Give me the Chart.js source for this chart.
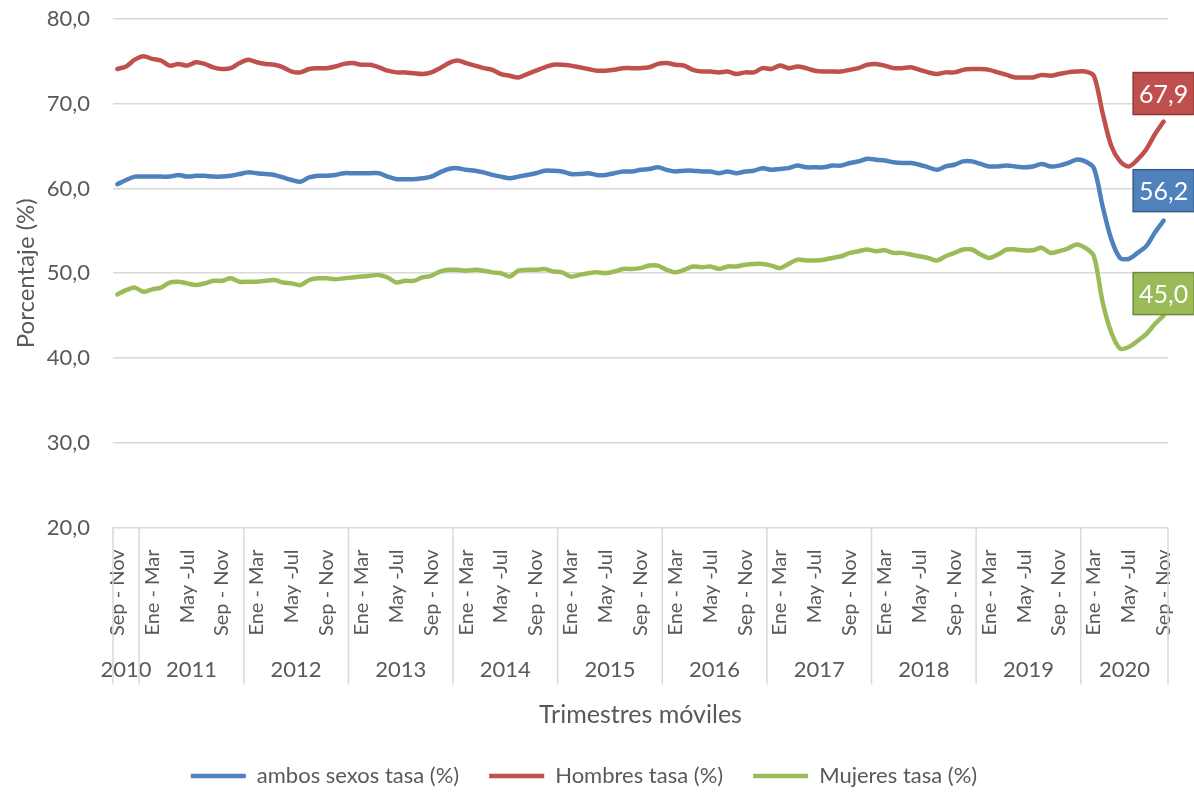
<!DOCTYPE html>
<html>
<head>
<meta charset="utf-8">
<script src="https://cdn.jsdelivr.net/npm/chart.js@4/dist/chart.umd.min.js"></script>
<style>
  body { margin: 0; background: #fff; }
  #wrap { width: 1194px; height: 792px; }
</style>
</head>
<body>
<div id="wrap"><canvas id="chart"></canvas></div>
<script>
// years shown on the second row of the x axis, and how many moving quarters each one holds
const years = ['2010', '2011', '2012', '2013', '2014', '2015', '2016', '2017', '2018', '2019', '2020'];
const yearCounts = [3, 12, 12, 12, 12, 12, 12, 12, 12, 12, 10];
const quarterNames = ['Dic - Feb', 'Ene - Mar', 'Feb - Abr', 'Mar - May', 'Abr - Jun', 'May -Jul',
	'Jun - Ago', 'Jul - Sep', 'Ago - Oct', 'Sep - Nov', 'Oct - Dic', 'Nov - Ene'];
const firstQuarter = 9; // Sep - Nov 2010

const ambos = [
	60.5, 61.0, 61.4, 61.4, 61.4, 61.4, 61.4, 61.6, 61.4, 61.5, 61.5, 61.4,
	61.4, 61.5, 61.7, 61.9, 61.8, 61.7, 61.6, 61.3, 61.0, 60.8, 61.3, 61.5,
	61.5, 61.6, 61.8, 61.8, 61.8, 61.8, 61.8, 61.4, 61.1, 61.1, 61.1, 61.2,
	61.4, 61.9, 62.3, 62.4, 62.2, 62.1, 61.9, 61.6, 61.4, 61.2, 61.4, 61.6,
	61.8, 62.1, 62.1, 62.0, 61.7, 61.7, 61.8, 61.6, 61.6, 61.8, 62.0, 62.0,
	62.2, 62.3, 62.5, 62.2, 62.0, 62.1, 62.1, 62.0, 62.0, 61.8, 62.0, 61.8,
	62.0, 62.1, 62.4, 62.2, 62.3, 62.4, 62.7, 62.5, 62.5, 62.5, 62.7, 62.7,
	63.0, 63.2, 63.5, 63.4, 63.3, 63.1, 63.0, 63.0, 62.8, 62.5, 62.2, 62.6,
	62.8, 63.2, 63.2, 62.9, 62.6, 62.6, 62.7, 62.6, 62.5, 62.6, 62.9, 62.6,
	62.7, 63.0, 63.4, 63.2, 62.4, 57.9, 54.0, 51.8, 51.7, 52.4, 53.2, 54.8,
	56.2
];
const hombres = [
	74.1, 74.4, 75.2, 75.6, 75.3, 75.1, 74.5, 74.7, 74.5, 74.9, 74.7, 74.3,
	74.1, 74.2, 74.8, 75.2, 74.9, 74.7, 74.6, 74.3, 73.8, 73.7, 74.1, 74.2,
	74.2, 74.4, 74.7, 74.8, 74.6, 74.6, 74.3, 73.9, 73.7, 73.7, 73.6, 73.5,
	73.7, 74.2, 74.8, 75.1, 74.8, 74.5, 74.2, 74.0, 73.5, 73.3, 73.1, 73.5,
	73.9, 74.3, 74.6, 74.6, 74.5, 74.3, 74.1, 73.9, 73.9, 74.0, 74.2, 74.2,
	74.2, 74.3, 74.7, 74.8, 74.6, 74.5, 74.0, 73.8, 73.8, 73.7, 73.8, 73.5,
	73.7, 73.7, 74.2, 74.1, 74.5, 74.2, 74.4, 74.2, 73.9, 73.8, 73.8, 73.8,
	74.0, 74.2, 74.6, 74.7, 74.5, 74.2, 74.2, 74.3, 74.0, 73.7, 73.5, 73.7,
	73.7, 74.0, 74.1, 74.1, 74.0, 73.7, 73.4, 73.1, 73.1, 73.1, 73.4, 73.3,
	73.5, 73.7, 73.8, 73.8, 73.3, 68.9, 65.0, 63.2, 62.6, 63.4, 64.6, 66.4,
	67.9
];
const mujeres = [
	47.5, 48.0, 48.3, 47.8, 48.1, 48.3, 48.9, 49.0, 48.8, 48.6, 48.8, 49.1,
	49.1, 49.4, 49.0, 49.0, 49.0, 49.1, 49.2, 48.9, 48.8, 48.6, 49.2, 49.4,
	49.4, 49.3, 49.4, 49.5, 49.6, 49.7, 49.8, 49.5, 48.9, 49.1, 49.1, 49.5,
	49.7, 50.2, 50.4, 50.4, 50.3, 50.4, 50.3, 50.1, 50.0, 49.6, 50.3, 50.4,
	50.4, 50.5, 50.2, 50.1, 49.6, 49.8, 50.0, 50.1, 50.0, 50.2, 50.5, 50.5,
	50.6, 50.9, 50.9, 50.4, 50.1, 50.4, 50.8, 50.7, 50.8, 50.5, 50.8, 50.8,
	51.0, 51.1, 51.1, 50.9, 50.6, 51.1, 51.6, 51.5, 51.5, 51.6, 51.8, 52.0,
	52.4, 52.6, 52.8, 52.6, 52.7, 52.4, 52.4, 52.2, 52.0, 51.8, 51.5, 52.0,
	52.4, 52.8, 52.8, 52.2, 51.8, 52.2, 52.8, 52.8, 52.7, 52.7, 53.0, 52.4,
	52.6, 52.9, 53.4, 53.0, 52.0, 46.6, 43.0, 41.1, 41.3, 42.0, 42.8, 44.0,
	45.0
];

const labels = [];
let q = firstQuarter;
yearCounts.forEach(function (n) {
	for (let k = 0; k < n; k++) {
		labels.push(quarterNames[q % 12]);
		q++;
	}
});

const FONT = 'Lato';
const GREY = '#595959';
const GRID = '#D9D9D9';

// year row under the rotated quarter labels, with separators between years
const yearRow = {
	id: 'yearRow',
	afterDraw(chart) {
		const ctx = chart.ctx;
		const x = chart.scales.x;
		const half = (x.getPixelForValue(1) - x.getPixelForValue(0)) / 2;
		const top = x.top;
		ctx.save();
		ctx.strokeStyle = GRID;
		ctx.lineWidth = 1.5;
		ctx.fillStyle = GREY;
		ctx.font = '22px ' + FONT;
		ctx.textAlign = 'center';
		ctx.textBaseline = 'middle';
		let start = 0;
		years.forEach(function (y, i) {
			const left = x.getPixelForValue(start) - half;
			const right = x.getPixelForValue(start + yearCounts[i] - 1) + half;
			ctx.beginPath();
			ctx.moveTo(left, top);
			ctx.lineTo(left, top + 157);
			ctx.stroke();
			if (i === years.length - 1) {
				ctx.beginPath();
				ctx.moveTo(right, top);
				ctx.lineTo(right, top + 157);
				ctx.stroke();
			}
			ctx.fillText(y, (left + right) / 2, top + 142);
			start += yearCounts[i];
		});
		ctx.restore();
	}
};

// boxed value on the last point of each line
const lastValue = {
	id: 'lastValue',
	afterDatasetsDraw(chart) {
		const ctx = chart.ctx;
		const shift = [-30, -28, -22];
		const edges = ['#385D8A', '#8C3836', '#71893F'];
		ctx.save();
		chart.data.datasets.forEach(function (ds, i) {
			const meta = chart.getDatasetMeta(i);
			const el = meta.data[meta.data.length - 1];
			const cx = el.x;
			const cy = el.y + shift[i];
			const w = 61, h = 42;
			ctx.fillStyle = ds.borderColor;
			ctx.fillRect(cx - w / 2, cy - h / 2, w, h);
			ctx.strokeStyle = edges[i];
			ctx.lineWidth = 1.5;
			ctx.strokeRect(cx - w / 2, cy - h / 2, w, h);
			ctx.fillStyle = '#fff';
			ctx.font = '25px ' + FONT;
			ctx.textAlign = 'center';
			ctx.textBaseline = 'middle';
			ctx.fillText(ds.data[ds.data.length - 1].toFixed(1).replace('.', ','), cx, cy + 1);
		});
		ctx.restore();
	}
};

function line(label, data, color) {
	return {
		label: label,
		data: data,
		borderColor: color,
		backgroundColor: color,
		borderWidth: 4.5,
		borderCapStyle: 'round',
		borderJoinStyle: 'round',
		pointRadius: 0,
		tension: 0.3,
	};
}

new Chart(document.getElementById('chart'), {
	type: 'line',
	data: {
		labels: labels,
		datasets: [
			line('ambos sexos tasa (%)', ambos, '#4F81BD'),
			line('Hombres tasa (%)', hombres, '#C0504D'),
			line('Mujeres tasa (%)', mujeres, '#9BBB59'),
		],
	},
	options: {
		responsive: true,
		maintainAspectRatio: false,
		animation: false,
		layout: { padding: { top: 19, right: 26, bottom: -5, left: 0 } },
		plugins: {
			legend: {
				position: 'bottom',
				labels: {
					usePointStyle: true,
					pointStyle: 'line',
					pointStyleWidth: 55,
					color: GREY,
					font: { family: FONT, size: 22 },
					padding: 30,
				},
			},
			tooltip: { enabled: false },
		},
		scales: {
			x: {
				offset: true,
				afterFit: function (s) { s.paddingLeft = 0; s.paddingRight = 0; },
				grid: { display: false },
				border: { display: false },
				ticks: {
					autoSkip: false,
					minRotation: 90,
					maxRotation: 90,
					padding: 14,
					color: GREY,
					font: { family: FONT, size: 20 },
					callback: function (v, i) { return i % 4 === 0 ? labels[i] : ''; },
				},
				title: {
					display: true,
					text: 'Trimestres móviles',
					color: GREY,
					font: { family: FONT, size: 25 },
					padding: { top: 50, bottom: 5 },
				},
			},
			y: {
				min: 20,
				max: 80,
				afterFit: function (s) { s.width = 113; s.paddingTop = 0; s.paddingBottom = 0; },
				grid: { color: GRID, lineWidth: 1.5, drawTicks: false },
				border: { display: false },
				ticks: {
					stepSize: 10,
					padding: 23,
					color: GREY,
					font: { family: FONT, size: 22 },
					callback: function (v) { return v.toFixed(1).replace('.', ','); },
				},
				title: {
					display: true,
					text: 'Porcentaje (%)',
					color: GREY,
					font: { family: FONT, size: 24 },
					padding: { top: 12, bottom: 0 },
				},
			},
		},
	},
	plugins: [yearRow, lastValue],
});
</script>
</body>
</html>
